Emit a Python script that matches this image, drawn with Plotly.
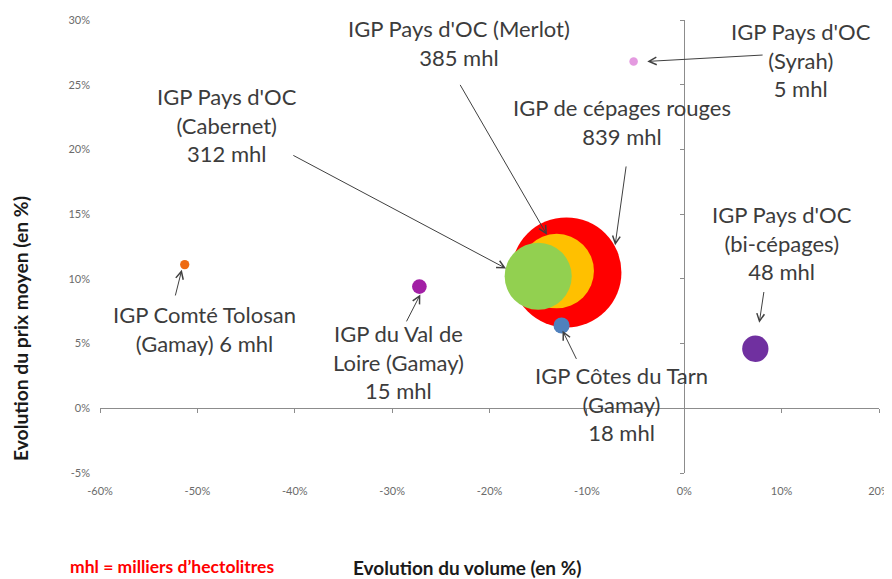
import plotly.graph_objects as go

# ---- data ----
names = ["IGP de cépages rouges", "IGP Pays d'OC (Merlot)", "IGP Pays d'OC (Cabernet)",
         "IGP Côtes du Tarn (Gamay)", "IGP Pays d'OC (bi-cépages)", "IGP du Val de Loire (Gamay)",
         "IGP Comté Tolosan (Gamay)", "IGP Pays d'OC (Syrah)"]
volume_change = [-12.1, -13.1, -15.0, -12.6, 7.3, -27.2, -51.3, -5.2]
price_change = [10.5, 10.6, 10.2, 6.4, 4.6, 9.4, 11.1, 26.8]
volumes_mhl = [839, 385, 312, 18, 48, 15, 6, 5]
colors = ["#FF0000", "#FFC000", "#92D050", "#4F81BD", "#7030A0", "#A21FA5", "#EE6A12", "#E49AE0"]

x_ticks = [-60, -50, -40, -30, -20, -10, 0, 10, 20]
x_tick_labels = ["-60%", "-50%", "-40%", "-30%", "-20%", "-10%", "0%", "10%", "20%"]
y_ticks = [-5, 0, 5, 10, 15, 20, 25, 30]
y_tick_labels = ["-5%", "0%", "5%", "10%", "15%", "20%", "25%", "30%"]

# labels: text, text position (x, y), arrow tail (x, y), arrow head (x, y)
labels = [
    ("IGP Pays d'OC (Merlot)<br>385 mhl", (-23.1, 28.2), (-23.1, 25.1), (-14.1, 13.4)),
    ("IGP Pays d'OC<br>(Syrah)<br>5 mhl", (12.0, 26.9), (8.2, 27.3), (-3.8, 26.8)),
    ("IGP de cépages rouges<br>839 mhl", (-6.4, 22.1), (-5.95, 18.8), (-7.1, 12.6)),
    ("IGP Pays d'OC<br>(Cabernet)<br>312 mhl", (-47.0, 21.9), (-40.3, 19.6), (-18.3, 10.8)),
    ("IGP Pays d'OC<br>(bi-cépages)<br>48 mhl", (10.0, 12.8), (8.2, 9.1), (7.7, 6.6)),
    ("IGP Comté Tolosan<br>(Gamay) 6 mhl", (-49.3, 6.1), (-52.3, 8.6), (-51.6, 10.7)),
    ("IGP du Val de<br>Loire (Gamay)<br>15 mhl", (-29.3, 3.6), (-28.6, 6.6), (-27.1, 8.8)),
    ("IGP Côtes du Tarn<br>(Gamay)<br>18 mhl", (-6.4, 0.3), (-11.0, 3.7), (-12.5, 6.0)),
]

FONT = "Lato, Open Sans, sans-serif"
AXIS_GREY = "#8c8c8c"

fig = go.Figure()
fig.add_trace(go.Scatter(
    x=volume_change, y=price_change, mode="markers", text=names,
    marker=dict(size=volumes_mhl, sizemode="area", sizeref=2 * 839 / 110 ** 2,
                color=colors, opacity=1, line=dict(width=0)),
    hovertemplate="%{text}<br>Volume: %{x}%<br>Prix: %{y}%<extra></extra>",
    showlegend=False,
))

annotations = []
for text, (tx, ty), (ax, ay), (hx, hy) in labels:
    annotations.append(dict(x=tx, y=ty, xref="x", yref="y", text=text, showarrow=False,
                            font=dict(family=FONT, size=22, color="#3c3c3c"),
                            xanchor="center", yanchor="middle", align="center"))
    annotations.append(dict(x=hx, y=hy, xref="x", yref="y", ax=ax, ay=ay, axref="x", ayref="y",
                            text="", showarrow=True, arrowhead=5, arrowsize=1.5,
                            arrowwidth=1, arrowcolor="#404040", standoff=0, startstandoff=0))

# plot area (figure px): left 92, right 871, top 12, bottom 465
annotations += [
    dict(x=-0.1027, y=0.320, xref="paper", yref="paper", text="<b>Evolution du prix moyen (en %)</b>",
         textangle=-90, showarrow=False, font=dict(family=FONT, size=19.3, color="#1a1a1a"),
         xanchor="center", yanchor="middle"),
    dict(x=0.4724, y=-0.2097, xref="paper", yref="paper", text="<b>Evolution du volume (en %)</b>",
         showarrow=False, font=dict(family=FONT, size=19, color="#1a1a1a"),
         xanchor="center", yanchor="middle"),
    dict(x=0.0924, y=-0.2075, xref="paper", yref="paper", text="<b>mhl = milliers d’hectolitres</b>",
         showarrow=False, font=dict(family=FONT, size=17.5, color="#FF0000"),
         xanchor="center", yanchor="middle"),
]

tickfont = dict(family=FONT, size=11, color="#6b6b6b")
fig.update_layout(
    width=892, height=571,
    margin=dict(l=92, r=21, t=12, b=106),
    paper_bgcolor="white", plot_bgcolor="white",
    showlegend=False,
    xaxis=dict(range=[-60, 20], tickvals=x_ticks, ticktext=x_tick_labels, showgrid=False,
               zeroline=False, showline=False, ticks="", tickfont=tickfont,
               ticklabelstandoff=10, fixedrange=True, automargin=False),
    yaxis=dict(range=[-5, 30], tickvals=y_ticks, ticktext=y_tick_labels, showgrid=False,
               zeroline=False, showline=False, ticks="", tickfont=tickfont,
               ticklabelstandoff=9, fixedrange=True, automargin=False),
    xaxis2=dict(overlaying="x", matches="x", anchor="free", position=5 / 35,
                tickvals=x_ticks, showticklabels=False, showgrid=False, zeroline=False,
                showline=True, linecolor=AXIS_GREY, linewidth=1, automargin=False,
                ticks="outside", ticklen=4, tickcolor=AXIS_GREY),
    yaxis2=dict(overlaying="y", matches="y", anchor="free", position=60 / 80,
                tickvals=y_ticks, showticklabels=False, showgrid=False, zeroline=False,
                showline=True, linecolor=AXIS_GREY, linewidth=1, automargin=False,
                ticks="outside", ticklen=4, tickcolor=AXIS_GREY),
    annotations=annotations,
)
# invisible helper trace so the zero-crossing axes are drawn
fig.add_trace(go.Scatter(x=[None], y=[None], xaxis="x2", yaxis="y2", showlegend=False,
                         hoverinfo="skip"))

fig.write_html("out.html")
